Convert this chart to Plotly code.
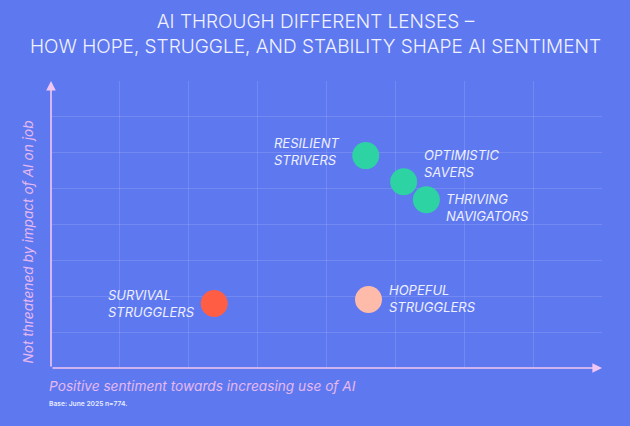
import plotly.graph_objects as go

segments = ["RESILIENT<br>STRIVERS", "OPTIMISTIC<br>SAVERS", "THRIVING<br>NAVIGATORS",
            "SURVIVAL<br>STRUGGLERS", "HOPEFUL<br>STRUGGLERS"]
sentiment = [4.57, 5.12, 5.45, 2.37, 4.61]
not_threatened = [5.92, 5.19, 4.69, 1.80, 1.91]
colors = ["#2DD3A2", "#2DD3A2", "#2DD3A2", "#FF5E45", "#FFBBAA"]

# label placement (style): side, xshift, yshift in pixels
label_pos = [("left", -25, 4), ("right", 18, 18), ("right", 18, -8),
             ("left", -17, 0), ("right", 18, 1)]

BG = "#5E78F0"
AXIS = "#F2C6F2"
TXT = "#EEF0FF"
AXT = "#E6B8F0"

fig = go.Figure()
fig.add_trace(go.Scatter(
    x=sentiment, y=not_threatened, mode="markers",
    marker=dict(size=27, color=colors, line=dict(width=0)),
    hoverinfo="skip", showlegend=False))

for name, x, y, (side, xs, ys) in zip(segments, sentiment, not_threatened, label_pos):
    fig.add_annotation(x=x, y=y, text=name, showarrow=False,
                       xanchor="right" if side == "left" else "left",
                       xshift=xs, yshift=ys, align="left",
                       font=dict(family="Inter", size=13, color=TXT, style="italic"))

# axis arrows
fig.add_annotation(x=0, y=8, ax=0, ay=0, xref="x", yref="y", axref="x", ayref="y",
                   showarrow=True, arrowhead=2, arrowsize=1.2, arrowwidth=1.6,
                   arrowcolor=AXIS, text="")
fig.add_annotation(x=8, y=0, ax=0, ay=0, xref="x", yref="y", axref="x", ayref="y",
                   showarrow=True, arrowhead=2, arrowsize=1.2, arrowwidth=1.6,
                   arrowcolor=AXIS, text="")

fig.add_annotation(x=0.0, y=-0.028, xref="x domain", yref="y domain", xshift=-4,
                   text="Positive sentiment towards increasing use of AI", showarrow=False,
                   xanchor="left", yanchor="top",
                   font=dict(family="Inter", size=13.7, color=AXT, style="italic"))
fig.add_annotation(x=-0.042, y=0.44, xref="x domain", yref="y domain",
                   text="Not threatened by impact of AI on job", showarrow=False,
                   textangle=-90, xanchor="center", yanchor="middle",
                   font=dict(family="Inter", size=13.7, color=AXT, style="italic"))
fig.add_annotation(x=0.0, y=-0.106, xref="x domain", yref="y domain", xshift=-4,
                   text="Base: June 2025 n=774.", showarrow=False,
                   xanchor="left", yanchor="top",
                   font=dict(family="Inter", size=6.7, color="#E8ECFF", weight=600))
fig.add_annotation(x=0.5, y=1.254, xref="paper", yref="paper", xshift=-11,
                   text="AI THROUGH DIFFERENT LENSES –<br>HOW HOPE, STRUGGLE, AND STABILITY SHAPE AI SENTIMENT",
                   showarrow=False, xanchor="center", yanchor="top", align="center",
                   font=dict(family="Inter", size=19, color="#F0F2FF", weight=300))

fig.update_layout(
    width=630, height=426,
    paper_bgcolor=BG, plot_bgcolor=BG,
    margin=dict(l=51, r=28, t=81, b=58),
    xaxis=dict(range=[0, 8], dtick=1, showticklabels=False, zeroline=False,
               showgrid=True, gridcolor="rgba(255,255,255,0.13)", gridwidth=1,
               showline=False, fixedrange=True),
    yaxis=dict(range=[0, 8], dtick=1, showticklabels=False, zeroline=False,
               showgrid=True, gridcolor="rgba(255,255,255,0.13)", gridwidth=1,
               showline=False, fixedrange=True),
)

fig.write_html("out.html")
